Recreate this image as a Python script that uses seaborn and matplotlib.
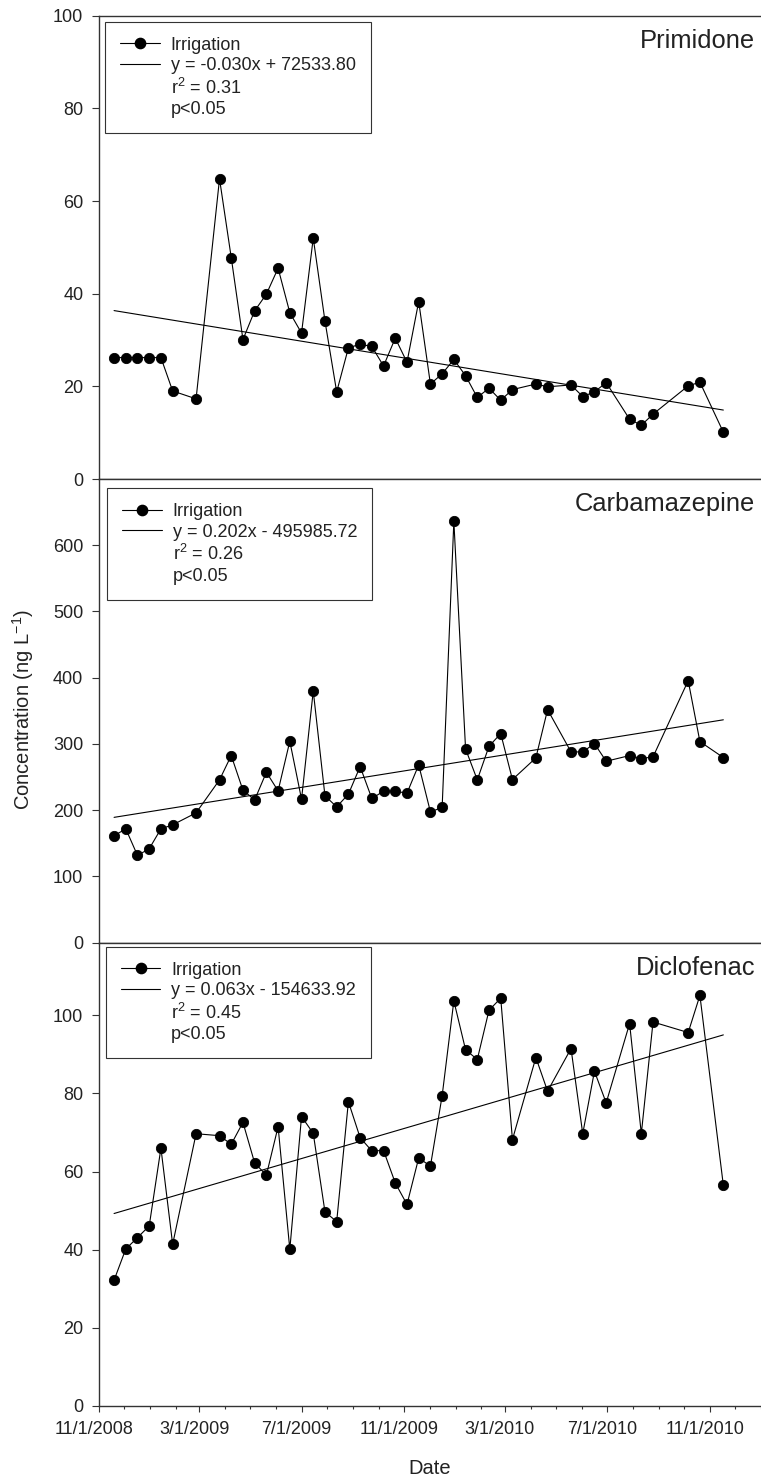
import numpy as np
import pandas as pd
import matplotlib
matplotlib.use("Agg")
import matplotlib.pyplot as plt
import matplotlib.dates as mdates
import seaborn as sns
from matplotlib.lines import Line2D
from matplotlib.ticker import FuncFormatter
from matplotlib.transforms import ScaledTranslation

# Biweekly irrigation-water sampling dates
sample_dates = [
    "2008-11-19", "2008-12-03", "2008-12-17", "2008-12-31", "2009-01-14",
    "2009-01-28", "2009-02-25", "2009-03-25", "2009-04-08", "2009-04-22",
    "2009-05-06", "2009-05-20", "2009-06-03", "2009-06-17", "2009-07-01",
    "2009-07-15", "2009-07-29", "2009-08-12", "2009-08-26", "2009-09-09",
    "2009-09-23", "2009-10-07", "2009-10-21", "2009-11-04", "2009-11-18",
    "2009-12-02", "2009-12-16", "2009-12-30", "2010-01-13", "2010-01-27",
    "2010-02-10", "2010-02-24", "2010-03-10", "2010-04-07", "2010-04-21",
    "2010-05-19", "2010-06-02", "2010-06-16", "2010-06-30", "2010-07-28",
    "2010-08-11", "2010-08-25", "2010-10-06", "2010-10-20", "2010-11-17",
]

# Concentrations (ng/L)
primidone = [
    26.2, 26.2, 26.2, 26.2, 26.2, 19.0, 17.3, 64.8, 47.8, 30.1,
    36.3, 39.9, 45.5, 35.9, 31.5, 52.0, 34.1, 18.8, 28.3, 29.1,
    28.6, 24.4, 30.4, 25.2, 38.3, 20.5, 22.7, 25.8, 22.3, 17.6,
    19.6, 17.0, 19.3, 20.5, 19.9, 20.3, 17.8, 18.8, 20.8, 12.9,
    11.6, 14.0, 20.1, 20.9, 10.1,
]
carbamazepine = [
    161.4, 171.9, 131.7, 141.8, 171.9, 177.9, 196.0, 245.8, 282.5, 230.2,
    215.6, 257.3, 229.2, 304.1, 216.6, 380.0, 221.7, 205.1, 224.2, 265.9,
    217.7, 228.7, 228.7, 225.7, 268.4, 197.5, 204.1, 636.3, 292.5, 245.8,
    296.5, 315.7, 246.3, 279.0, 351.8, 288.0, 288.0, 300.6, 273.9, 282.5,
    278.0, 280.5, 395.6, 303.6, 279.5,
]
diclofenac = [
    32.2, 40.2, 43.1, 46.1, 66.0, 41.4, 69.7, 69.2, 67.0, 72.6,
    62.2, 59.1, 71.5, 40.1, 74.1, 69.8, 49.7, 47.2, 77.9, 68.7,
    65.3, 65.4, 57.1, 51.6, 63.5, 61.4, 79.4, 103.7, 91.2, 88.7,
    101.3, 104.4, 68.2, 89.2, 80.6, 91.5, 69.7, 85.7, 77.6, 97.9,
    69.7, 98.3, 95.6, 105.1, 56.5,
]

compounds = ["Primidone", "Carbamazepine", "Diclofenac"]
series = [primidone, carbamazepine, diclofenac]
equations = [
    "y = -0.030x + 72533.80",
    "y = 0.202x - 495985.72",
    "y = 0.063x - 154633.92",
]
r_squared = ["0.31", "0.26", "0.45"]
p_text = "p<0.05"
series_name = "Irrigation"

sns.set_theme(style="ticks")
plt.rcParams["font.family"] = ["Liberation Sans", "DejaVu Sans"]
plt.rcParams["mathtext.fontset"] = "custom"
plt.rcParams["mathtext.rm"] = "Liberation Sans"
plt.rcParams["mathtext.it"] = "Liberation Sans:italic"
plt.rcParams["mathtext.bf"] = "Liberation Sans:bold"

W, H = 761, 1483
fig = plt.figure(figsize=(W / 100, H / 100), dpi=100)

left_px, right_px = 99, 761
panel_px = [(15.7, 479.0), (479.0, 942.7), (942.7, 1406.0)]
y_limits = [(0, 100), (0, 700), (0, 118.6)]
y_steps = [20, 100, 20]
y_maxtick = [100, 600, 100]
legend_offsets = [(6.0, 6.0), (8.3, 9.3), (6.7, 4.0)]

xnum = mdates.date2num(pd.to_datetime(sample_dates))
x_lo = mdates.date2num(pd.Timestamp("2008-11-01"))
x_hi = mdates.date2num(pd.Timestamp("2011-01-01"))

ink = "#222222"
spine_col = "#333333"


def date_label(v, pos):
    d = mdates.num2date(v)
    return f"{d.month}/{d.day}/{d.year}"


for i, (name, vals) in enumerate(zip(compounds, series)):
    top, bot = panel_px[i]
    ax = fig.add_axes([left_px / W, 1 - bot / H, (right_px - left_px) / W, (bot - top) / H])

    df = pd.DataFrame({"date": xnum, "conc": vals})
    sns.lineplot(data=df, x="date", y="conc", ax=ax, color="black", lw=0.8,
                 marker="o", markersize=7.4, markeredgecolor="black",
                 markeredgewidth=0.6, legend=False)
    sns.regplot(data=df, x="date", y="conc", ax=ax, scatter=False, ci=None,
                truncate=True, color="black", line_kws=dict(lw=0.8))

    ax.set_xlim(x_lo, x_hi)
    ax.set_ylim(*y_limits[i])
    ax.set_yticks(np.arange(0, y_maxtick[i] + 1, y_steps[i]))
    ax.set_xlabel("")
    ax.set_ylabel("")

    for s in ax.spines.values():
        s.set_visible(True)
        s.set_color(spine_col)
        s.set_linewidth(1.0)
    ax.spines["right"].set_linewidth(0.6)
    ax.spines["right"].set_color("#bbbbbb")

    ax.tick_params(axis="y", direction="out", length=4.8, width=0.8,
                   pad=6.5, labelsize=13, color=spine_col, labelcolor=ink)
    ax.xaxis.set_major_locator(mdates.MonthLocator(bymonth=(3, 7, 11)))
    ax.xaxis.set_minor_locator(mdates.MonthLocator())
    ax.xaxis.set_major_formatter(FuncFormatter(date_label))
    if i < 2:
        ax.tick_params(axis="x", which="both", bottom=False, labelbottom=False)
    else:
        ax.tick_params(axis="x", which="major", direction="out", length=4.5,
                       width=0.8, pad=6.5, labelsize=13, color=spine_col,
                       labelcolor=ink)
        ax.tick_params(axis="x", which="minor", direction="out", length=2.5,
                       width=0.8, color=spine_col)
        shift = ScaledTranslation(-5 / 100, 0, fig.dpi_scale_trans)
        for lab in ax.get_xticklabels():
            lab.set_transform(lab.get_transform() + shift)

    # Compound name in the upper right corner
    ax.text(0.991, 1 - 32.5 / (bot - top), name, transform=ax.transAxes,
            ha="right", va="baseline", fontsize=18.4, color=ink)

    handles = [
        Line2D([], [], color="black", lw=0.8, marker="o", markersize=7.4,
               markeredgecolor="black"),
        Line2D([], [], color="black", lw=0.8),
        Line2D([], [], linestyle="none"),
        Line2D([], [], linestyle="none"),
    ]
    labels = [series_name, equations[i],
              "r$^{\\mathregular{2}}$ = " + r_squared[i], p_text]
    dx, dy = legend_offsets[i]
    leg = ax.legend(handles, labels, loc="upper left",
                    bbox_to_anchor=(dx / (right_px - left_px), 1 - dy / (bot - top)),
                    borderaxespad=0, fontsize=13, frameon=True, fancybox=False,
                    framealpha=1, edgecolor=spine_col, borderpad=0.83,
                    labelspacing=0.19, handlelength=2.2, handletextpad=0.6)
    leg.get_frame().set_linewidth(0.8)
    for t in leg.get_texts():
        t.set_color(ink)

fig.text(23 / W, 1 - 710 / H, "Concentration (ng L$^{\\mathregular{-1}}$)",
         rotation=90, ha="center", va="center", fontsize=14.5, color=ink)
fig.text(430 / W, 1 - 1469 / H, "Date", ha="center", va="center",
         fontsize=14.5, color=ink)

fig.savefig("out.png", dpi=100)
